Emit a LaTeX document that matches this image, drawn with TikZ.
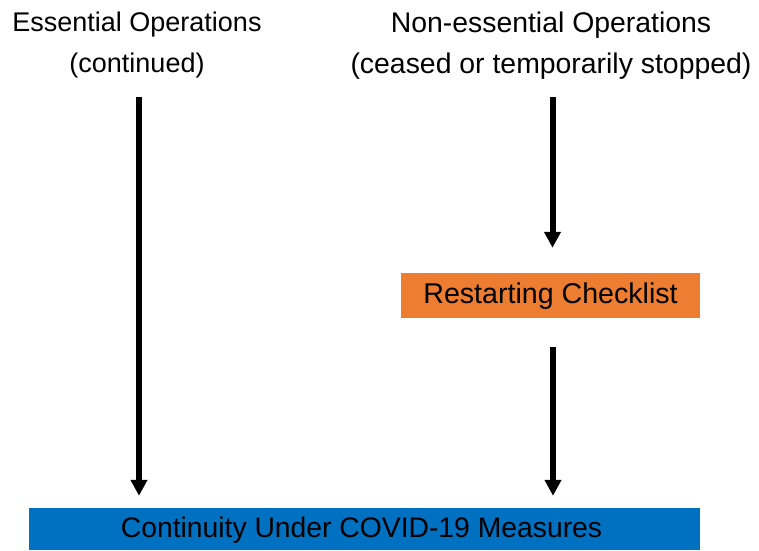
\documentclass[tikz,border=0pt]{standalone}
\usepackage{fontspec}
\setmainfont{Liberation Sans}
\usetikzlibrary{arrows.meta}
\definecolor{boxorange}{HTML}{ED7D31}
\definecolor{boxblue}{HTML}{0070C0}
\tikzset{
  title/.style={anchor=north, inner sep=0pt, align=center},
  stagebox/.style={inner sep=0pt, text depth=4pt},
  flow/.style={line width=6pt, -{Triangle[width=16pt,length=16pt]}}
}
\begin{document}
\begin{tikzpicture}[x=1pt,y=-1pt]
  \path[use as bounding box] (0,0) rectangle (759,550);

  % column headings
  \node[title, font=\fontsize{27}{41}\selectfont] (ess) at (137,12)
    {Essential Operations\\(continued)};
  \node[title, font=\fontsize{28.4}{41}\selectfont] (non) at (551,12)
    {Non-essential Operations\\(ceased or temporarily stopped)};

  % boxes
  \node[stagebox, fill=boxorange, minimum width=299pt, minimum height=45pt,
        font=\fontsize{28.6}{32}\selectfont]
    (restart) at (550.5,295.5) {Restarting Checklist};
  \node[stagebox, fill=boxblue, minimum width=671pt, minimum height=42pt,
        font=\fontsize{28.3}{32}\selectfont]
    (cont) at (364.5,529) {\hspace*{-6pt}Continuity Under COVID-19 Measures};

  % arrow anchor points
  \coordinate (essfoot) at (139,97);
  \coordinate (nonfoot) at (552.5,97);
  \coordinate (restfoot) at (553,347);

  \draw[flow] (essfoot) -- ([yshift=12pt]essfoot |- cont.north);
  \draw[flow] (nonfoot) -- ([yshift=25pt]nonfoot |- restart.north);
  \draw[flow] (restfoot) -- ([yshift=12pt]restfoot |- cont.north);
\end{tikzpicture}
\end{document}
